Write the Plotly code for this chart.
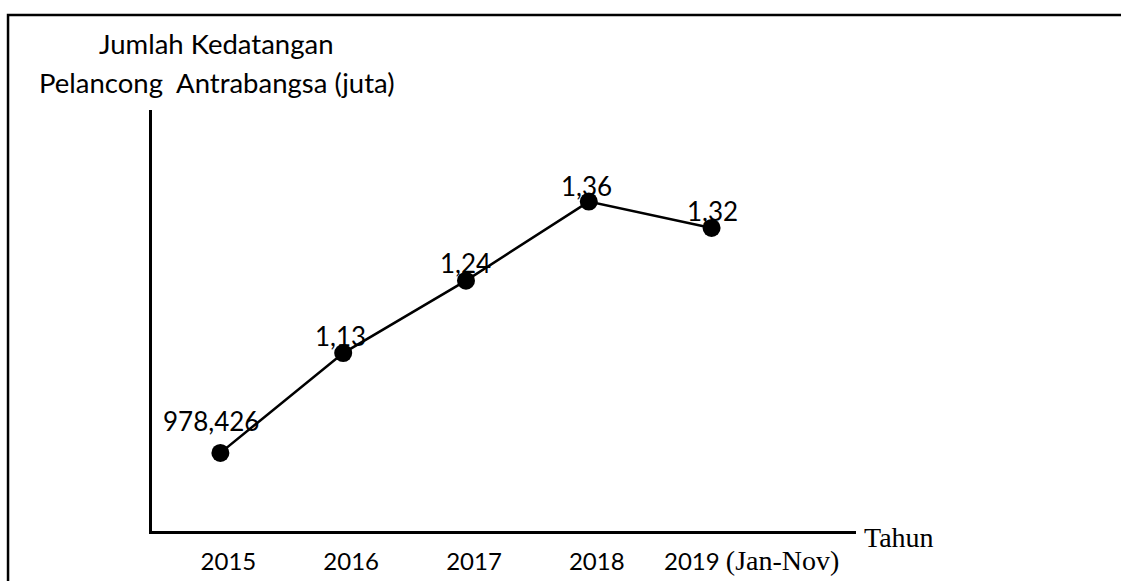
import plotly.graph_objects as go

# ---- data ----
years = [2015, 2016, 2017, 2018, 2019]
arrivals_million = [0.978426, 1.13, 1.24, 1.36, 1.32]
value_labels = ["978,426", "1,13", "1,24", "1,36", "1,32"]
tick_labels = ["2015", "2016", "2017", "2018", ""]
last_tick_label = "2019 <span style=\"font-family:'Liberation Serif', 'Times New Roman', serif; font-size:28px\">(Jan-Nov)</span>"
y_title_lines = ["Jumlah Kedatangan", "Pelancong\u00a0 Antrabangsa (juta)"]
x_title = "Tahun"

SANS = "Lato, 'Noto Sans', sans-serif"
SERIF = "'Liberation Serif', 'Times New Roman', serif"

fig = go.Figure()
fig.add_trace(go.Scatter(
    x=years, y=arrivals_million, mode="lines+markers",
    line=dict(color="black", width=2.5),
    marker=dict(color="black", size=18),
    hoverinfo="skip",
))

# data labels
shifts = [(-9, 32), (-3, 17), (0, 18), (-2, 16), (1, 17)]
for xv, yv, lab, (dx, dy) in zip(years, arrivals_million, value_labels, shifts):
    fig.add_annotation(x=xv, y=yv, text=lab, showarrow=False,
                       xshift=dx, yshift=dy,
                       font=dict(family=SANS, size=26, color="black"))

# last category label (wider, mixed fonts), placed at its year on the x scale
fig.add_annotation(x=years[-1], xref="x", yref="paper", y=-0.0689,
                   xanchor="center", yanchor="middle", xshift=40,
                   text=last_tick_label, showarrow=False,
                   font=dict(family=SANS, size=24, color="black"))

# y-axis title (two lines)
for line, yp in zip(y_title_lines, [1.1568, 1.0665]):
    fig.add_annotation(xref="paper", yref="paper", x=0.0923, y=yp,
                       xanchor="center", yanchor="middle", text=line,
                       showarrow=False,
                       font=dict(family=SANS, size=27.5, color="black"))

# x-axis title
fig.add_annotation(xref="paper", yref="paper", x=1.0085, y=-0.0143,
                   xanchor="left", yanchor="middle", text=x_title,
                   showarrow=False,
                   font=dict(family=SERIF, size=28, color="black"))

# outer frame (only left and top edges fall inside the canvas)
fig.add_shape(type="rect", xref="paper", yref="paper",
              x0=-0.2045, x1=1.45, y0=-0.3, y1=1.2257,
              line=dict(color="black", width=2.5), layer="below")

fig.update_xaxes(range=[2014.443, 2020.176], showgrid=False, zeroline=False,
                 showline=True, linecolor="black", linewidth=3,
                 ticks="", tickvals=years, ticktext=tick_labels,
                 ticklabelshift=8, ticklabelstandoff=7, tickangle=0,
                 automargin=False,
                 tickfont=dict(family=SANS, size=24, color="black"))
fig.update_yaxes(range=[0.8598, 1.4991], showgrid=False, zeroline=False,
                 showline=True, linecolor="black", linewidth=3,
                 showticklabels=False, ticks="", automargin=False)

fig.update_layout(width=1121, height=581,
                  margin=dict(l=152, r=265, t=110, b=50, pad=0, autoexpand=False),
                  paper_bgcolor="white", plot_bgcolor="white",
                  showlegend=False)

fig.write_html("out.html", config={"displayModeBar": False},
               post_script="document.body.style.margin='0';")
